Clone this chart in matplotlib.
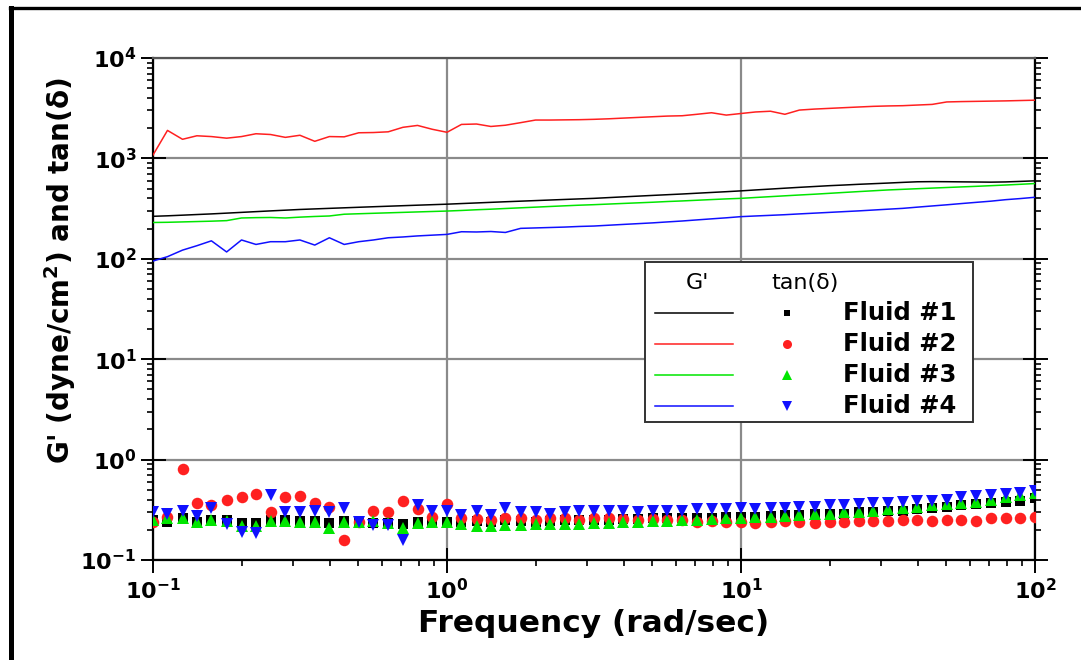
import math
import matplotlib
matplotlib.use("Agg")
import matplotlib.pyplot as plt
from matplotlib.lines import Line2D
from matplotlib.patches import Rectangle
from matplotlib.ticker import LogLocator, FuncFormatter, NullFormatter

plt.rcParams['font.family'] = ['DejaVu Sans']
plt.rcParams['mathtext.fontset'] = 'custom'
plt.rcParams['mathtext.rm'] = 'DejaVu Sans:bold'
plt.rcParams['mathtext.bf'] = 'DejaVu Sans:bold'
plt.rcParams['mathtext.it'] = 'DejaVu Sans:bold'
plt.rcParams['mathtext.default'] = 'bf'

# ---------------- data ----------------
freq = [0.1, 0.112, 0.126, 0.141, 0.158, 0.178, 0.2, 0.224, 0.251, 0.282,
        0.316, 0.355, 0.398, 0.447, 0.501, 0.562, 0.631, 0.708, 0.794, 0.891,
        1.0, 1.12, 1.26, 1.41, 1.58, 1.78, 2.0, 2.24, 2.51, 2.82,
        3.16, 3.55, 3.98, 4.47, 5.01, 5.62, 6.31, 7.08, 7.94, 8.91,
        10.0, 11.2, 12.6, 14.1, 15.8, 17.8, 20.0, 22.4, 25.1, 28.2,
        31.6, 35.5, 39.8, 44.7, 50.1, 56.2, 63.1, 70.8, 79.4, 89.1, 100.0]

gp_fluid1 = [265, 268, 272, 276, 280, 285, 290, 295, 300, 305,
             310, 314, 318, 322, 326, 330, 334, 338, 342, 346,
             350, 355, 360, 365, 370, 375, 380, 385, 390, 395,
             400, 407, 414, 421, 428, 435, 442, 450, 458, 466,
             475, 485, 495, 505, 515, 525, 535, 543, 552, 560,
             568, 577, 585, 587, 586, 584, 582, 580, 583, 590, 598]
gp_fluid2 = [1080, 1900, 1550, 1680, 1650, 1590, 1650, 1760, 1730, 1620,
             1700, 1480, 1650, 1640, 1800, 1810, 1840, 2040, 2130, 1950,
             1820, 2180, 2200, 2080, 2140, 2270, 2410, 2410, 2420, 2430,
             2450, 2480, 2520, 2560, 2600, 2640, 2660, 2750, 2850, 2700,
             2800, 2900, 2950, 2750, 3030, 3100, 3150, 3200, 3250, 3300,
             3330, 3350, 3400, 3450, 3650, 3680, 3700, 3720, 3740, 3770, 3800]
gp_fluid3 = [230, 231, 233, 235, 237, 240, 255, 257, 258, 255,
             260, 264, 267, 278, 281, 284, 287, 290, 293, 296,
             299, 303, 308, 312, 317, 322, 327, 332, 337, 342,
             346, 351, 356, 361, 366, 372, 377, 383, 389, 395,
             400, 408, 416, 424, 432, 440, 449, 458, 467, 476,
             485, 492, 499, 506, 513, 520, 527, 535, 543, 552, 562]
gp_fluid4 = [95, 105, 122, 135, 151, 117, 154, 139, 148, 148,
             154, 137, 162, 139, 148, 154, 162, 165, 169, 172,
             175, 186, 185, 187, 183, 201, 203, 205, 207, 210,
             212, 216, 220, 224, 228, 233, 238, 244, 250, 256,
             263, 267, 271, 275, 280, 285, 290, 295, 300, 306,
             312, 318, 327, 336, 345, 355, 365, 375, 388, 398, 410]

tan_fluid1 = [0.25, 0.24, 0.26, 0.24, 0.25, 0.25, 0.235, 0.235, 0.25, 0.25,
              0.245, 0.245, 0.235, 0.245, 0.24, 0.235, 0.235, 0.23, 0.24, 0.245,
              0.24, 0.24, 0.245, 0.24, 0.25, 0.245, 0.24, 0.245, 0.25, 0.25,
              0.25, 0.25, 0.255, 0.255, 0.26, 0.26, 0.26, 0.265, 0.265, 0.27,
              0.27, 0.27, 0.275, 0.28, 0.28, 0.285, 0.29, 0.29, 0.30, 0.30,
              0.31, 0.31, 0.32, 0.33, 0.34, 0.35, 0.36, 0.37, 0.38, 0.39, 0.41]
tan_fluid2 = [0.24, 0.27, 0.80, 0.37, 0.35, 0.40, 0.42, 0.45, 0.30, 0.42,
              0.43, 0.37, 0.34, 0.16, 0.24, 0.31, 0.30, 0.39, 0.32, 0.27,
              0.36, 0.26, 0.255, 0.25, 0.265, 0.26, 0.25, 0.26, 0.26, 0.25,
              0.26, 0.26, 0.255, 0.25, 0.255, 0.25, 0.25, 0.24, 0.245, 0.24,
              0.24, 0.235, 0.24, 0.245, 0.24, 0.235, 0.24, 0.24, 0.245, 0.245,
              0.245, 0.25, 0.25, 0.245, 0.25, 0.25, 0.245, 0.26, 0.26, 0.265, 0.27]
tan_fluid3 = [0.25, 0.26, 0.26, 0.24, 0.25, 0.245, 0.22, 0.22, 0.245, 0.245,
              0.24, 0.24, 0.21, 0.24, 0.24, 0.245, 0.235, 0.21, 0.235, 0.24,
              0.24, 0.23, 0.22, 0.22, 0.225, 0.225, 0.23, 0.23, 0.23, 0.23,
              0.235, 0.235, 0.24, 0.24, 0.245, 0.245, 0.25, 0.25, 0.255, 0.26,
              0.265, 0.27, 0.27, 0.275, 0.28, 0.285, 0.29, 0.30, 0.30, 0.31,
              0.32, 0.33, 0.34, 0.35, 0.36, 0.37, 0.38, 0.40, 0.42, 0.44, 0.47]
tan_fluid4 = [0.30, 0.29, 0.31, 0.275, 0.33, 0.23, 0.19, 0.186, 0.44, 0.30,
              0.30, 0.31, 0.30, 0.33, 0.24, 0.225, 0.225, 0.16, 0.35, 0.31,
              0.31, 0.28, 0.31, 0.28, 0.33, 0.30, 0.30, 0.29, 0.30, 0.31,
              0.31, 0.31, 0.31, 0.30, 0.31, 0.31, 0.31, 0.32, 0.32, 0.32,
              0.33, 0.32, 0.33, 0.33, 0.34, 0.34, 0.35, 0.35, 0.36, 0.37,
              0.37, 0.38, 0.39, 0.39, 0.40, 0.42, 0.43, 0.44, 0.45, 0.47, 0.49]

labels = ["Fluid #1", "Fluid #2", "Fluid #3", "Fluid #4"]
colors = ["#000000", "#ff2020", "#00e600", "#1010ff"]
markers = ["s", "o", "^", "v"]
msizes = [6.5, 8.3, 8.8, 8.8]
gp_all = [gp_fluid1, gp_fluid2, gp_fluid3, gp_fluid4]
tan_all = [tan_fluid1, tan_fluid2, tan_fluid3, tan_fluid4]

# ---------------- figure ----------------
W, H = 1081, 660
fig = plt.figure(figsize=(W / 100, H / 100), dpi=100)
ax = fig.add_axes([153 / W, 1 - 560 / H, (1035 - 153) / W, (560 - 58) / H])

ax.set_xscale('log')
ax.set_yscale('log')
ax.set_xlim(0.1, 100)
ax.set_ylim(0.1, 1e4)

for gp, c in zip(gp_all, colors):
    ax.plot(freq, gp, color=c, lw=1.1, zorder=3)
for tn, c, m, s in zip(tan_all, colors, markers, msizes):
    ax.plot(freq, tn, linestyle='none', marker=m, color=c, ms=s,
            markeredgewidth=0, zorder=4)

# grid at decades only
ax.grid(True, which='major', color='#8a8a8a', lw=1.6, zorder=1)
ax.set_axisbelow(True)

fmt = FuncFormatter(lambda v, p: r'$\mathbf{10^{%d}}$' % round(math.log10(v)))
ax.xaxis.set_major_locator(LogLocator(base=10, numticks=10))
ax.yaxis.set_major_locator(LogLocator(base=10, numticks=10))
ax.xaxis.set_minor_locator(LogLocator(base=10, subs=range(2, 10), numticks=20))
ax.yaxis.set_minor_locator(LogLocator(base=10, subs=range(2, 10), numticks=20))
ax.xaxis.set_major_formatter(fmt)
ax.yaxis.set_major_formatter(fmt)
ax.xaxis.set_minor_formatter(NullFormatter())
ax.yaxis.set_minor_formatter(NullFormatter())

ax.tick_params(axis='both', which='major', direction='inout', length=18, width=1.4,
               labelsize=16, pad=3, color='black')
ax.tick_params(axis='x', which='major', pad=4)
ax.tick_params(axis='both', which='minor', direction='out', length=4.5, width=1.2,
               color='black')
ax.tick_params(axis='y', which='both', left=True, right=True, labelleft=True)
ax.tick_params(axis='x', which='both', bottom=True, top=False)

for side in ['left', 'right', 'bottom']:
    ax.spines[side].set_linewidth(1.6)
    ax.spines[side].set_color('black')
ax.spines['top'].set_linewidth(1.6)
ax.spines['top'].set_color('#555555')

ax.set_xlabel('Frequency (rad/sec)', fontsize=22.5, fontweight='bold')
ax.xaxis.set_label_coords(0.5, -0.098)
ax.set_ylabel("G' (dyne/cm$^{2}$) and tan(δ)", fontsize=20, fontweight='bold')
ax.yaxis.set_label_coords(-0.085, 0.576)

# ---------------- legend (manual box) ----------------
T = ax.transAxes
ax.add_patch(Rectangle((0.558, 0.275), 0.372, 0.319, transform=T, facecolor='white',
                       edgecolor='#333333', lw=1.4, zorder=6))
ax.text(0.617, 0.552, "G'", transform=T, ha='center', va='center', fontsize=16, zorder=7)
ax.text(0.739, 0.552, "tan(δ)", transform=T, ha='center', va='center', fontsize=16, zorder=7)
row_y = [0.492, 0.430, 0.368, 0.307]
leg_ms = [5, 6.5, 7, 7]
for yy, c, m, s, lab in zip(row_y, colors, markers, leg_ms, labels):
    ax.add_line(Line2D([0.569, 0.658], [yy, yy], transform=T, color=c, lw=1.1, zorder=7))
    ax.add_line(Line2D([0.719], [yy], transform=T, color=c, marker=m, ms=s,
                       markeredgewidth=0, linestyle='none', zorder=7))
    ax.text(0.782, yy, lab, transform=T, ha='left', va='center', fontsize=17.5,
            fontweight='bold', zorder=7)

# outer frame (top and left edges visible)
fig.add_artist(Line2D([10 / W, 1.0], [1 - 8 / H, 1 - 8 / H], transform=fig.transFigure,
                      color='black', lw=2.4))
fig.add_artist(Line2D([10.5 / W, 10.5 / W], [0.0, 1 - 8 / H], transform=fig.transFigure,
                      color='black', lw=3.6))

fig.savefig('out.png', dpi=100)
